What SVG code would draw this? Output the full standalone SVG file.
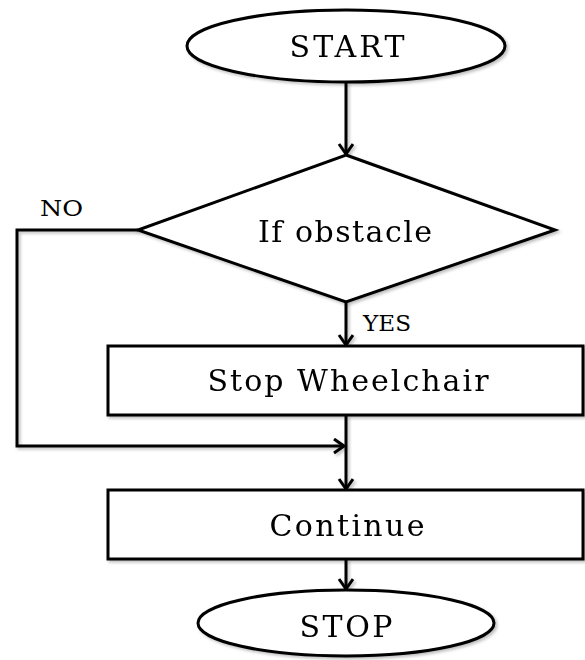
<svg xmlns="http://www.w3.org/2000/svg" width="585" height="660" viewBox="0 0 585 660">
<style>
.shape{fill:#fff;stroke:#000;stroke-width:3}
.conn{fill:none;stroke:#000;stroke-width:3}
.t{font-family:"DejaVu Serif","Liberation Serif",serif;font-size:30px;fill:#000;text-anchor:middle}
.lbl{font-family:"DejaVu Serif","Liberation Serif",serif;font-size:22px;fill:#000}
</style>
<defs>
<filter id="sh" x="-10%" y="-10%" width="130%" height="130%">
<feDropShadow dx="2" dy="2" stdDeviation="1.5" flood-color="#000" flood-opacity="0.25"/>
</filter>
<marker id="arr" markerUnits="userSpaceOnUse" markerWidth="20" markerHeight="20" refX="11" refY="8" orient="auto">
<path d="M1,1 L11,8 L1,15" fill="none" stroke="#000" stroke-width="3"/>
</marker>
</defs>
<g id="connectors" filter="url(#sh)">
<line class="conn" x1="346" y1="82" x2="346" y2="154" marker-end="url(#arr)"/>
<line class="conn" x1="346" y1="302" x2="346" y2="345" marker-end="url(#arr)"/>
<polyline class="conn" points="138,230 17,230 17,446 344,446" marker-end="url(#arr)"/>
<line class="conn" x1="346" y1="415" x2="346" y2="489" marker-end="url(#arr)"/>
<line class="conn" x1="346" y1="559" x2="346" y2="589" marker-end="url(#arr)"/>
</g>
<g id="start" filter="url(#sh)">
<ellipse class="shape" cx="346" cy="46" rx="159" ry="36"/>
<text class="t" x="347" y="57" textLength="115">START</text>
</g>
<g id="decision" filter="url(#sh)">
<polygon class="shape" points="346,155 555,230 346,302 138,230"/>
<text class="t" x="345" y="242" textLength="174">If obstacle</text>
</g>
<g id="stopwheelchair" filter="url(#sh)">
<rect class="shape" x="108" y="346" width="475" height="69"/>
<text class="t" x="348" y="391" textLength="281">Stop Wheelchair</text>
</g>
<g id="continue" filter="url(#sh)">
<rect class="shape" x="108" y="490" width="475" height="69"/>
<text class="t" x="347" y="536" textLength="155">Continue</text>
</g>
<g id="stop" filter="url(#sh)">
<ellipse class="shape" cx="346" cy="623" rx="148" ry="33"/>
<text class="t" x="346" y="637" textLength="93">STOP</text>
</g>
<g id="labels">
<text class="lbl" x="40" y="216" textLength="43" lengthAdjust="spacingAndGlyphs">NO</text>
<text class="lbl" x="363" y="331" textLength="48" lengthAdjust="spacingAndGlyphs">YES</text>
</g>
</svg>
